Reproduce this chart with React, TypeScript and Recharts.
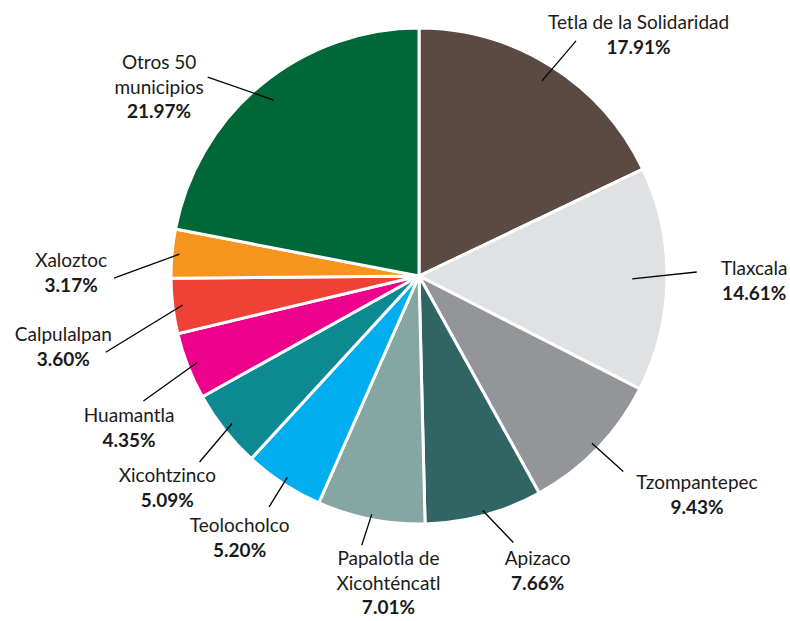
import { PieChart, Pie, Cell } from 'recharts'

/* ─── Data ─────────────────────────────────────────────────────── */

const MUNICIPIOS = [
  'Tetla de la Solidaridad',
  'Tlaxcala',
  'Tzompantepec',
  'Apizaco',
  'Papalotla de\nXicohténcatl',
  'Teolocholco',
  'Xicohtzinco',
  'Huamantla',
  'Calpulalpan',
  'Xaloztoc',
  'Otros 50\nmunicipios',
]

const SHARES = [17.91, 14.61, 9.43, 7.66, 7.01, 5.2, 5.09, 4.35, 3.6, 3.17, 21.97]

const SLICE_COLORS = [
  '#5b4a42',
  '#e0e1e3',
  '#939598',
  '#306563',
  '#86a6a3',
  '#00aeef',
  '#0d8991',
  '#ec008c',
  '#ef4136',
  '#f7941d',
  '#006838',
]

/* ─── Label layout (hand tuned) ────────────────────────────────── */

// nudge of each label block away from its radial spot
const LABEL_NUDGE: [number, number][] = [
  [37, 10],
  [-7, 0],
  [32, 12],
  [29, 7],
  [36, 15],
  [8, 12],
  [17, 27],
  [29, 43],
  [-16, 34],
  [-7, 23],
  [-42, 40],
]

// leader line: [angle shift of outer end (deg, clockwise), inner r, outer r] as radius factors
const LEADER: [number, number, number][] = [
  [1.5, 0.93, 1.14],
  [-1.6, 0.86, 1.12],
  [-0.3, 0.97, 1.14],
  [-4.3, 0.98, 1.14],
  [0.8, 0.98, 1.11],
  [-0.2, 0.97, 1.11],
  [-2, 0.96, 1.16],
  [-3.1, 0.96, 1.22],
  [-6.7, 0.96, 1.3],
  [-5.6, 0.97, 1.23],
  [-7.2, 0.92, 1.17],
]

const data = MUNICIPIOS.map((name, i) => ({ name, value: SHARES[i] }))

/* ─── Label ────────────────────────────────────────────────────── */

const RAD = Math.PI / 180
const FONT = 'Lato, "Open Sans", sans-serif'
const LINE_H = 25

const polar = (cx: number, cy: number, r: number, deg: number) => ({
  x: cx + r * Math.cos(-deg * RAD),
  y: cy + r * Math.sin(-deg * RAD),
})

function SliceLabel(props: any) {
  const { cx, cy, midAngle, outerRadius, index } = props
  const [shift, rIn, rOut] = LEADER[index]
  const p1 = polar(cx, cy, outerRadius * rIn, midAngle)
  const p2 = polar(cx, cy, outerRadius * rOut, midAngle - shift)

  const dx = Math.cos(-midAngle * RAD)
  const dy = Math.sin(-midAngle * RAD)
  const [nx, ny] = LABEL_NUDGE[index]
  const tx = cx + dx * outerRadius * 1.38 + nx
  const ty = cy + dy * outerRadius * 1.2 + ny

  const lines = MUNICIPIOS[index].split('\n')
  const total = lines.length + 1
  const lh = total > 2 ? 24.5 : LINE_H
  const firstBase = ty - ((total - 1) * lh) / 2 + 7

  return (
    <g>
      <line x1={p1.x} y1={p1.y} x2={p2.x} y2={p2.y} stroke="#000" strokeWidth={1.3} />
      <text
        x={tx}
        y={firstBase}
        textAnchor="middle"
        fontFamily={FONT}
        fontSize={19}
        fill="#1a1a1a"
      >
        {lines.map((l, i) => (
          <tspan key={i} x={tx} y={firstBase + i * lh}>
            {l}
          </tspan>
        ))}
        <tspan
          x={tx}
          y={firstBase + lines.length * lh}
          fontWeight="bold"
          fontSize={19}
        >
          {SHARES[index].toFixed(2) + '%'}
        </tspan>
      </text>
    </g>
  )
}

/* ─── Chart ────────────────────────────────────────────────────── */

export default function App() {
  return (
    <div style={{ position: 'absolute', left: 0, top: 0, width: 790, height: 621, background: '#fff' }}>
      <PieChart width={790} height={621} margin={{ top: 0, right: 0, bottom: 0, left: 0 }}>
        <Pie
          data={data}
          dataKey="value"
          nameKey="name"
          cx={419}
          cy={276}
          outerRadius={248}
          startAngle={90}
          endAngle={-270}
          stroke="#fff"
          strokeWidth={3}
          label={SliceLabel}
          labelLine={false}
          isAnimationActive={false}
        >
          {data.map((d, i) => (
            <Cell key={d.name} fill={SLICE_COLORS[i]} />
          ))}
        </Pie>
      </PieChart>
    </div>
  )
}
